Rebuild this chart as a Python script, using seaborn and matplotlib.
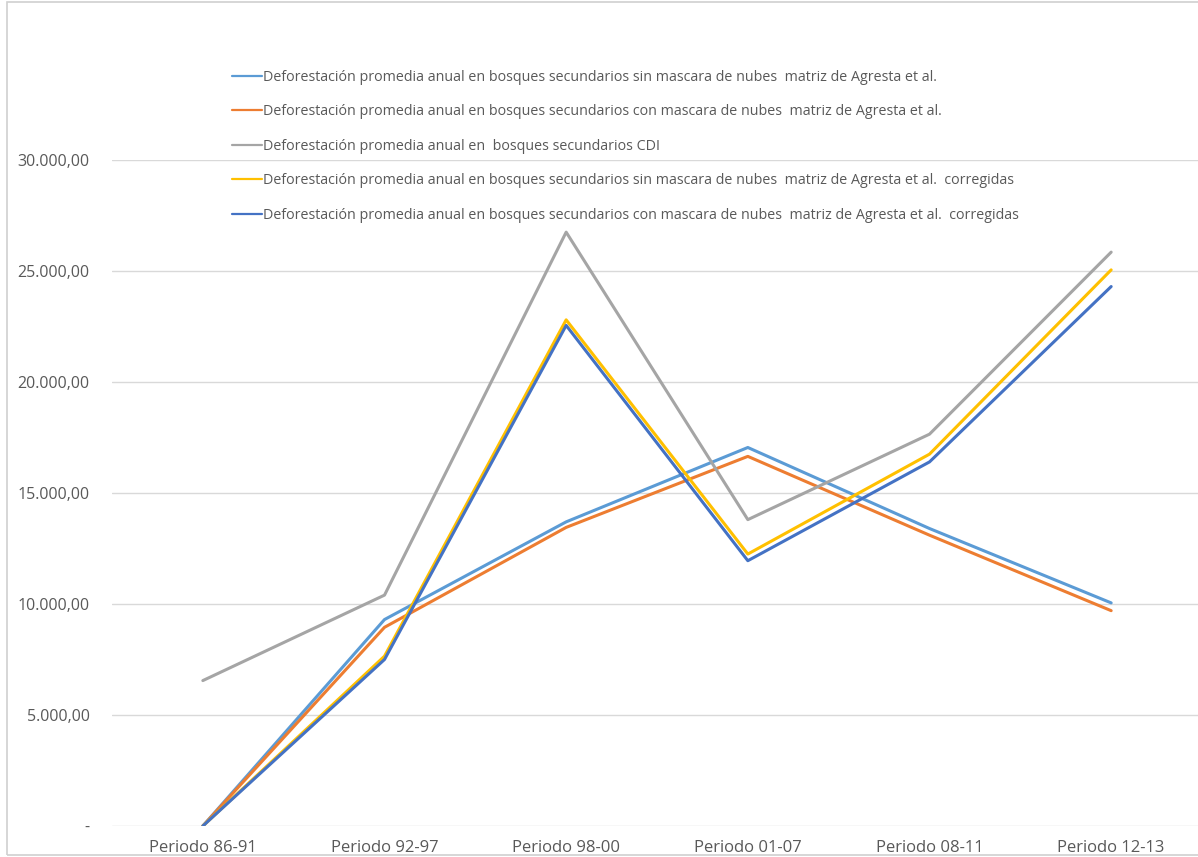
import matplotlib
matplotlib.use("Agg")
import matplotlib.pyplot as plt
import matplotlib.ticker as mticker
from matplotlib.patches import Rectangle
import seaborn as sns
import pandas as pd

periodos = ["Periodo 86-91", "Periodo 92-97", "Periodo 98-00",
            "Periodo 01-07", "Periodo 08-11", "Periodo 12-13"]

series_nombres = [
    "Deforestación promedia anual en bosques secundarios sin mascara de nubes  matriz de Agresta et al.",
    "Deforestación promedia anual en bosques secundarios con mascara de nubes  matriz de Agresta et al.",
    "Deforestación promedia anual en  bosques secundarios CDI",
    "Deforestación promedia anual en bosques secundarios sin mascara de nubes  matriz de Agresta et al.  corregidas",
    "Deforestación promedia anual en bosques secundarios con mascara de nubes  matriz de Agresta et al.  corregidas",
]

sin_mascara = [0, 9300, 13700, 17050, 13400, 10050]
con_mascara = [0, 8950, 13450, 16650, 13100, 9700]
cdi = [6550, 10400, 26750, 13800, 17650, 25850]
sin_mascara_corr = [0, 7650, 22800, 12250, 16750, 25050]
con_mascara_corr = [0, 7500, 22550, 11950, 16400, 24300]

colores = ["#5B9BD5", "#ED7D31", "#A5A5A5", "#FFC000", "#4472C4"]

valores = [sin_mascara, con_mascara, cdi, sin_mascara_corr, con_mascara_corr]
df = pd.DataFrame({
    "periodo": [p for _ in series_nombres for p in periodos],
    "serie": [s for s in series_nombres for _ in periodos],
    "valor": [v for vals in valores for v in vals],
})
df["periodo"] = pd.Categorical(df["periodo"], categories=periodos, ordered=True)
df["x"] = df["periodo"].cat.codes

sns.set_style("white")
plt.rcParams["font.family"] = ["Open Sans", "DejaVu Sans"]

W, H = 1198, 857
fig = plt.figure(figsize=(W / 100, H / 100), dpi=100)
ax = fig.add_axes([112 / W, (H - 826) / H, (1202 - 112) / W, (826 - 160) / H])

sns.lineplot(data=df, x="x", y="valor", hue="serie", hue_order=series_nombres,
             palette=colores, linewidth=2.2, ax=ax, sort=False, estimator=None)

ax.set_xlim(-0.5, len(periodos) - 0.5)
ax.set_ylim(0, 30000)
ax.set_xticks(range(len(periodos)))
ax.set_xticklabels(periodos)
ax.set_yticks(range(0, 30001, 5000))


def fmt_miles(v, pos):
    if v == 0:
        return "-"
    entero = f"{int(round(v)):,}".replace(",", ".")
    return f"{entero},00"


ax.yaxis.set_major_formatter(mticker.FuncFormatter(fmt_miles))
ax.grid(axis="y", color="#D9D9D9", linewidth=1)
ax.grid(axis="x", visible=False)
for s in ax.spines.values():
    s.set_visible(False)
ax.tick_params(axis="both", length=0, labelcolor="#595959")
ax.tick_params(axis="y", pad=16, labelsize=11.5)
ax.tick_params(axis="x", pad=10, labelsize=12)
ax.set_xlabel("")
ax.set_ylabel("")

sns.move_legend(ax, "upper left", bbox_to_anchor=(219 / W, 1 - 57 / H),
                bbox_transform=fig.transFigure, title=None, frameon=False,
                fontsize=10.25, handlelength=2.1, handletextpad=0.1,
                labelspacing=1.37, labelcolor="#595959")
for ln in ax.get_legend().get_lines():
    ln.set_linewidth(1.6)

# chart frame
fig.patches.append(Rectangle((7 / W, 2 / H), 1.2, 1 - 4 / H,
                             transform=fig.transFigure, fill=False,
                             edgecolor="#D0D0D0", linewidth=1.2))

fig.savefig("out.png", dpi=100, facecolor="white")
